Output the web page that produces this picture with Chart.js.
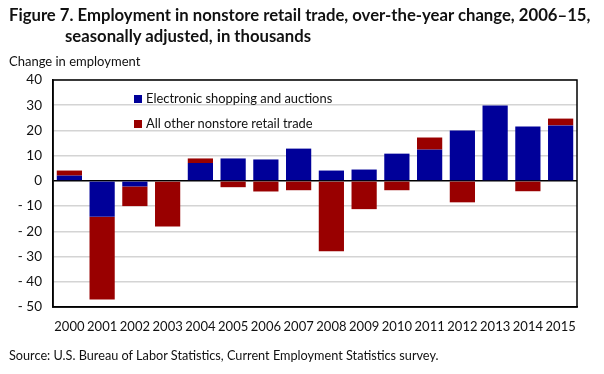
<!DOCTYPE html>
<html>
<head>
<meta charset="utf-8">
<script src="https://cdn.jsdelivr.net/npm/chart.js@4"></script>
<style>
  body { margin: 0; background: #fff; font-family: Lato, sans-serif; color: #111; }
  #wrap { position: relative; width: 604px; height: 374px; }
  canvas { position: absolute; left: 0; top: 0; }
  .txt { position: absolute; white-space: nowrap; }
  #title { left: 9px; top: 5px; font-weight: bold; font-size: 16.7px; line-height: 21px; }
  #title .l2 { padding-left: 56px; }
  #ylab { left: 9px; top: 53px; font-size: 13px; }
  #source { left: 9px; top: 347px; font-size: 12.7px; }
  .leg { position: absolute; font-size: 12.9px; white-space: nowrap; }
  .leg span { display: inline-block; width: 8px; height: 8px; margin-right: 4px; vertical-align: 0px; }
</style>
</head>
<body>
<div id="wrap">
  <canvas id="chart" width="604" height="374"></canvas>
  <div id="title" class="txt">Figure 7. Employment in nonstore retail trade, over-the-year change, 2006–15,<br><span class="l2">seasonally adjusted, in thousands</span></div>
  <div id="ylab" class="txt">Change in employment</div>
  <div class="leg" style="left:134px; top:90px;"><span style="background:#000099"></span>Electronic shopping and auctions</div>
  <div class="leg" style="left:134px; top:115px;"><span style="background:#990000"></span>All other nonstore retail trade</div>
  <div id="source" class="txt">Source: U.S. Bureau of Labor Statistics, Current Employment Statistics survey.</div>
</div>
<script>
// years on the x axis
const years = ["2000","2001","2002","2003","2004","2005","2006","2007","2008","2009","2010","2011","2012","2013","2014","2015"];

// change in thousands
const electronic = [2.1, -14.2, -2.2, 0, 7.1, 8.9, 8.5, 12.8, 4.1, 4.5, 10.8, 12.4, 20.0, 29.9, 21.6, 22.0];
const otherNonstore = [2.0, -32.8, -7.8, -18.1, 1.8, -2.5, -4.2, -3.7, -27.9, -11.2, -3.7, 4.8, -8.5, 0, -4.1, 2.7];

const yTicks = [40, 30, 20, 10, 0, -10, -20, -30, -40, -50];

// black frame round the plot
const frame = {
    id: "frame",
    afterDraw(chart) {
        const a = chart.chartArea;
        const ctx = chart.ctx;
        ctx.save();
        ctx.strokeStyle = "#000";
        ctx.lineWidth = 1.5;
        ctx.strokeRect(a.left, a.top, a.right - a.left, a.bottom - a.top);
        ctx.restore();
    }
};

const ctx = document.getElementById("chart").getContext("2d");
new Chart(ctx, {
    type: "bar",
    data: {
        labels: years,
        datasets: [
            { label: "Electronic shopping and auctions", data: electronic, backgroundColor: "#000099" },
            { label: "All other nonstore retail trade", data: otherNonstore, backgroundColor: "#990000" }
        ]
    },
    options: {
        responsive: false,
        animation: false,
        layout: { padding: { top: 80, right: 27, left: 0, bottom: 0 } },
        datasets: { bar: { barPercentage: 0.77, categoryPercentage: 1 } },
        plugins: { legend: { display: false }, tooltip: { enabled: false } },
        scales: {
            x: {
                stacked: true,
                grid: { display: false, drawTicks: false },
                border: { color: "#000", width: 1.5 },
                ticks: { color: "#111", font: { family: "Lato", size: 13 }, padding: 12, maxRotation: 0, autoSkip: false },
                afterFit(scale) { scale.height = 67; }
            },
            y: {
                stacked: true,
                min: -50,
                max: 40,
                afterBuildTicks(scale) { scale.ticks = yTicks.map(v => ({ value: v })); },
                grid: {
                    drawTicks: false,
                    color: c => c.tick.value === 0 ? "#000" : "#d4d4d4",
                    lineWidth: 1.5
                },
                border: { color: "#000", width: 1.5 },
                ticks: {
                    color: "#111",
                    font: { family: "Lato", size: 13.5 },
                    padding: 11,
                    callback: v => v < 0 ? "- " + Math.abs(v) : String(v)
                },
                afterFit(scale) { scale.width = 53; }
            }
        }
    },
    plugins: [frame]
});
</script>
</body>
</html>
